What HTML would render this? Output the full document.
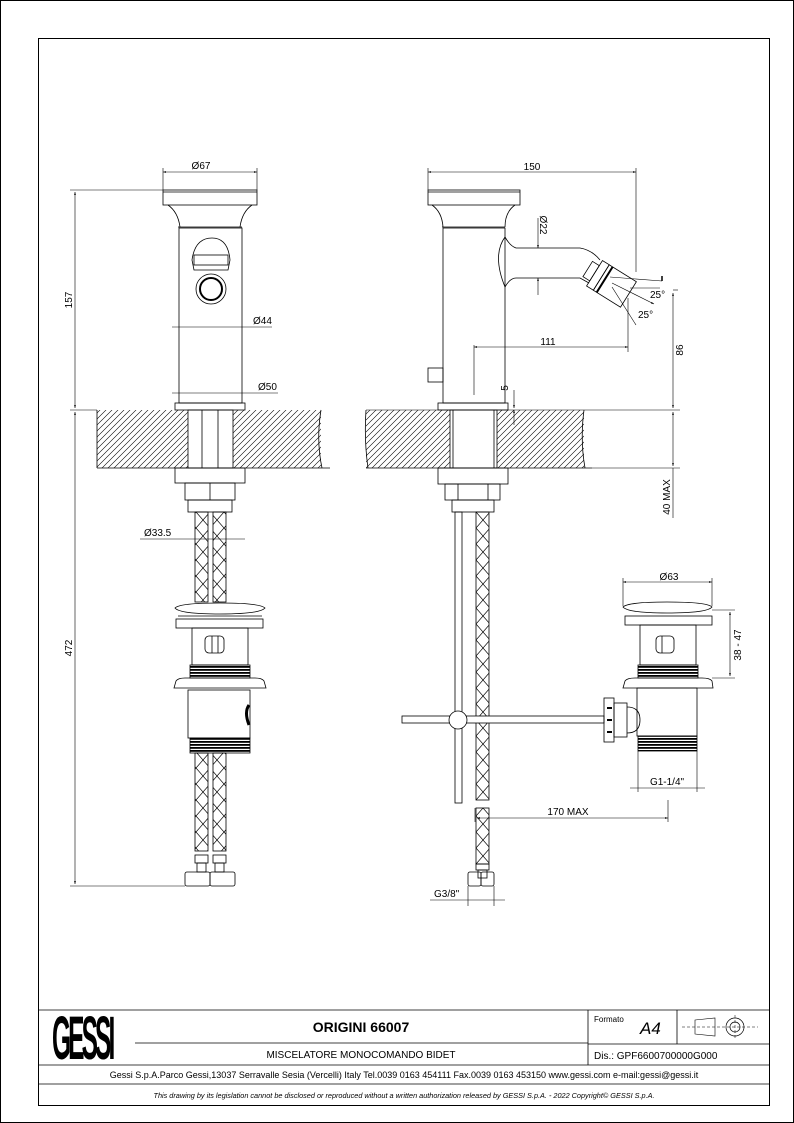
<!DOCTYPE html>
<html><head><meta charset="utf-8"><style>
html,body{margin:0;padding:0;background:#fff}
svg{display:block}
text{font-family:"Liberation Sans",Arial,sans-serif;fill:#000}
</style></head><body>
<svg width="794" height="1123" viewBox="0 0 794 1123" xmlns="http://www.w3.org/2000/svg">
<defs>
<pattern id="h" width="6" height="6" patternUnits="userSpaceOnUse"><path d="M-1,7 L7,-1 M-1,1 L1,-1 M5,7 L7,5" stroke="#000" stroke-width="0.6"/></pattern>
<pattern id="x" width="14" height="16" patternUnits="userSpaceOnUse"><path d="M0,0 L14,16 M14,0 L0,16" stroke="#000" stroke-width="0.7" fill="none"/></pattern>
<pattern id="t" width="8" height="3" patternUnits="userSpaceOnUse"><rect width="8" height="1.8" fill="#000"/></pattern>
<marker id="a" viewBox="0 0 10 10" refX="10" refY="5" markerWidth="7" markerHeight="5" orient="auto-start-reverse"><path d="M0,2 L10,5 L0,8z" fill="#000"/></marker>
</defs>
<rect x="0.5" y="0.5" width="793" height="1122" fill="none" stroke="#000"/>
<rect x="38.5" y="38.5" width="731" height="1067" fill="none" stroke="#000"/>
<g fill="none" stroke="#000" stroke-width="0.8">
<!-- LEFT VIEW -->
<rect x="163" y="190" width="94" height="15"/><line x1="163" y1="192" x2="257" y2="192"/>
<path d="M168,205 Q178,212 180,227 M252,205 Q242,212 240,227"/>
<line x1="178" y1="227" x2="242" y2="227"/>
<rect x="179" y="228" width="63" height="175"/>
<path d="M192,260 Q195,238 212,238 Q228,238 230,260 L228,270 L194,270z"/>
<rect x="194" y="255" width="34" height="10"/>
<circle cx="211" cy="289" r="15"/><circle cx="211" cy="289" r="11" stroke-width="2"/>
<rect x="175" y="403" width="70" height="7"/>
<rect x="97" y="410" width="91" height="58" fill="url(#h)" stroke="none"/>
<rect x="233" y="410" width="88" height="58" fill="url(#h)" stroke="none"/>
<path d="M97,410 L97,468 M321,410 Q316,440 322,468"/>
<rect x="188" y="410" width="45" height="58"/><line x1="202" y1="410" x2="202" y2="468"/><line x1="218" y1="410" x2="218" y2="468"/>
<line x1="97" y1="468" x2="330" y2="468"/>
<rect x="175" y="468" width="70" height="15"/>
<rect x="185" y="483" width="50" height="17"/><line x1="210" y1="483" x2="210" y2="500"/>
<rect x="188" y="500" width="44" height="12"/>
<rect x="195" y="512" width="13" height="90" fill="url(#x)"/><rect x="213" y="512" width="13" height="90" fill="url(#x)"/>
<path d="M175,608 Q180,603 220,603 Q260,603 265,608 Q260,614 220,614 Q180,614 175,608z"/>
<line x1="178" y1="616" x2="262" y2="616"/>
<rect x="176" y="619" width="87" height="9"/>
<rect x="192" y="628" width="56" height="37"/>
<rect x="205" y="636" width="19" height="17" rx="4"/><line x1="212" y1="636" x2="212" y2="653"/><line x1="218" y1="636" x2="218" y2="653"/>
<rect x="190" y="665" width="60" height="13" fill="url(#t)"/>
<path d="M174,688 L176,681 Q178,678 185,678 L255,678 Q262,678 264,681 L266,688z"/>
<rect x="188" y="690" width="62" height="48"/>
<path d="M249,705 Q244,712 249,725" stroke-width="3"/>
<rect x="190" y="738" width="60" height="15" fill="url(#t)"/>
<rect x="195" y="753" width="13" height="98" fill="url(#x)"/><rect x="213" y="753" width="13" height="98" fill="url(#x)"/>
<rect x="195" y="855" width="13" height="8"/><rect x="213" y="855" width="13" height="8"/>
<rect x="197" y="863" width="9" height="9"/><rect x="215" y="863" width="9" height="9"/>
<rect x="185" y="872" width="25" height="14" rx="2"/><rect x="210" y="872" width="25" height="14" rx="2"/>
<!-- LEFT dims -->
<line x1="70" y1="190" x2="163" y2="190" stroke-width="0.6"/>
<line x1="70" y1="410" x2="97" y2="410" stroke-width="0.6"/>
<line x1="70" y1="886" x2="185" y2="886" stroke-width="0.6"/>
<line x1="75" y1="192" x2="75" y2="408" marker-start="url(#a)" marker-end="url(#a)" stroke-width="0.6"/>
<line x1="75" y1="412" x2="75" y2="884" marker-start="url(#a)" marker-end="url(#a)" stroke-width="0.6"/>
<line x1="163" y1="172" x2="257" y2="172" marker-start="url(#a)" marker-end="url(#a)" stroke-width="0.6"/>
<line x1="163" y1="168" x2="163" y2="190" stroke-width="0.6"/><line x1="257" y1="168" x2="257" y2="190" stroke-width="0.6"/>
<line x1="172" y1="327" x2="272" y2="327" stroke-width="0.6"/>
<line x1="172" y1="393" x2="278" y2="393" stroke-width="0.6"/>
<line x1="140" y1="539" x2="245" y2="539" stroke-width="0.6"/>
<!-- RIGHT VIEW -->
<rect x="428" y="190" width="92" height="15"/><line x1="428" y1="192" x2="520" y2="192"/>
<path d="M432,205 Q442,212 443,227 M515,205 Q505,212 505,227"/>
<line x1="442" y1="227" x2="505" y2="227"/>
<rect x="443" y="228" width="62" height="175"/>
<path d="M505,237 Q492,255 505,287 M505,237 Q510,246 516,248 L580,248 Q592,250 600,260 M505,287 Q510,278 516,278 L580,278 L589,283"/>
<rect x="428" y="368" width="15" height="14"/>
<g transform="rotate(32 612 283)">
<rect x="584" y="275" width="8" height="18"/>
<rect x="592" y="269" width="8" height="30"/>
<rect x="600" y="269" width="32" height="30"/>
<line x1="604" y1="269" x2="604" y2="299" stroke-width="2"/>
</g>
<rect x="438" y="403" width="70" height="7"/>
<rect x="366" y="410" width="84" height="58" fill="url(#h)" stroke="none"/>
<rect x="497" y="410" width="87" height="58" fill="url(#h)" stroke="none"/>
<path d="M366,410 Q364,440 368,468 M584,410 Q580,440 585,468"/>
<rect x="450" y="410" width="47" height="58"/><line x1="453" y1="410" x2="453" y2="468"/><line x1="494" y1="410" x2="494" y2="468"/>
<line x1="366" y1="468" x2="592" y2="468"/>
<line x1="366" y1="410" x2="680" y2="410" stroke-width="0.6"/>
<rect x="438" y="468" width="70" height="16"/>
<rect x="445" y="484" width="55" height="16"/><line x1="458" y1="484" x2="458" y2="500"/><line x1="488" y1="484" x2="488" y2="500"/>
<rect x="452" y="500" width="42" height="12"/>
<rect x="455" y="512" width="7" height="291"/>
<rect x="476" y="512" width="13" height="288" fill="url(#x)"/>
<rect x="476" y="808" width="13" height="56" fill="url(#x)"/>
<rect x="476" y="864" width="13" height="6"/><rect x="478" y="870" width="9" height="8"/>
<rect x="468" y="872" width="13" height="14" rx="2"/><rect x="481" y="872" width="13" height="14" rx="2"/>
<rect x="402" y="716" width="202" height="7" fill="#fff"/>
<circle cx="458" cy="720" r="9" fill="#fff"/>
<rect x="604" y="698" width="10" height="44"/><rect x="614" y="703" width="13" height="34"/>
<path d="M607,708 h5 M607,720 h5 M607,732 h5" stroke-width="2"/>
<path d="M627,707 Q640,707 640,720 Q640,733 627,733"/>
<path d="M623,607 Q628,602 667,602 Q707,602 712,607 Q707,613 667,613 Q628,613 623,607z"/>
<rect x="625" y="616" width="87" height="9"/>
<rect x="640" y="625" width="56" height="40"/>
<rect x="656" y="636" width="18" height="17" rx="4"/><line x1="662" y1="636" x2="662" y2="653"/>
<rect x="638" y="665" width="60" height="13" fill="url(#t)"/>
<path d="M623,688 L625,681 Q627,678 635,678 L702,678 Q710,678 712,681 L713,688z"/>
<rect x="637" y="688" width="60" height="48"/>
<rect x="638" y="736" width="59" height="15" fill="url(#t)"/>
<!-- right dims -->
<line x1="428" y1="172" x2="636" y2="172" marker-start="url(#a)" marker-end="url(#a)" stroke-width="0.6"/>
<line x1="428" y1="168" x2="428" y2="190" stroke-width="0.6"/><line x1="636" y1="168" x2="636" y2="272" stroke-width="0.6"/>
<line x1="538" y1="218" x2="538" y2="248" marker-end="url(#a)" stroke-width="0.6"/>
<line x1="538" y1="295" x2="538" y2="278" marker-end="url(#a)" stroke-width="0.6"/>
<line x1="474" y1="347" x2="628" y2="347" marker-start="url(#a)" marker-end="url(#a)" stroke-width="0.6"/>
<line x1="474" y1="345" x2="474" y2="395" stroke-width="0.6"/><line x1="628" y1="298" x2="628" y2="352" stroke-width="0.6"/>
<line x1="610" y1="277" x2="662" y2="281" stroke-width="0.6"/><line x1="662" y1="276" x2="662" y2="281" stroke-width="1.5"/>
<line x1="612" y1="283" x2="654" y2="304" marker-end="url(#a)" stroke-width="0.6"/>
<line x1="630" y1="288" x2="660" y2="288" stroke-width="0.6"/>
<line x1="612" y1="287" x2="636" y2="325" stroke-width="0.6"/>
<line x1="673" y1="293" x2="673" y2="408" marker-start="url(#a)" marker-end="url(#a)" stroke-width="0.6"/>
<line x1="673" y1="412" x2="673" y2="466" marker-start="url(#a)" marker-end="url(#a)" stroke-width="0.6"/>
<line x1="592" y1="468" x2="680" y2="468" stroke-width="0.6"/>
<line x1="673" y1="290" x2="678" y2="290" stroke-width="0.6"/>
<line x1="673" y1="468" x2="673" y2="518" stroke-width="0.6"/>
<line x1="514" y1="390" x2="514" y2="408" marker-end="url(#a)" stroke-width="0.6"/>
<line x1="514" y1="425" x2="514" y2="410" marker-end="url(#a)" stroke-width="0.6"/>
<line x1="623" y1="582" x2="712" y2="582" marker-start="url(#a)" marker-end="url(#a)" stroke-width="0.6"/>
<line x1="623" y1="578" x2="623" y2="606" stroke-width="0.6"/><line x1="712" y1="578" x2="712" y2="606" stroke-width="0.6"/>
<line x1="712" y1="610" x2="735" y2="610" stroke-width="0.6"/><line x1="712" y1="678" x2="735" y2="678" stroke-width="0.6"/>
<line x1="730" y1="612" x2="730" y2="676" marker-start="url(#a)" marker-end="url(#a)" stroke-width="0.6"/>
<line x1="638" y1="751" x2="638" y2="792" stroke-width="0.6"/><line x1="697" y1="751" x2="697" y2="792" stroke-width="0.6"/>
<line x1="630" y1="788" x2="705" y2="788" stroke-width="0.6"/>
<line x1="475" y1="808" x2="475" y2="822" stroke-width="0.6"/><line x1="668" y1="800" x2="668" y2="822" stroke-width="0.6"/>
<line x1="477" y1="818" x2="668" y2="818" marker-start="url(#a)" marker-end="url(#a)" stroke-width="0.6"/>
<line x1="468" y1="886" x2="468" y2="906" stroke-width="0.6"/><line x1="494" y1="886" x2="494" y2="906" stroke-width="0.6"/>
<line x1="430" y1="900" x2="505" y2="900" stroke-width="0.6"/>
</g>
<g font-size="10">
<text x="201" y="169" text-anchor="middle">Ø67</text>
<text x="253" y="324">Ø44</text>
<text x="258" y="390">Ø50</text>
<text x="144" y="536">Ø33.5</text>
<text transform="translate(72 300) rotate(-90)" text-anchor="middle">157</text>
<text transform="translate(72 648) rotate(-90)" text-anchor="middle">472</text>
<text x="532" y="170" text-anchor="middle">150</text>
<text transform="translate(540 225) rotate(90)" text-anchor="middle">Ø22</text>
<text x="548" y="345" text-anchor="middle">111</text>
<text x="650" y="298">25°</text>
<text x="638" y="318">25°</text>
<text transform="translate(683 350) rotate(-90)" text-anchor="middle">86</text>
<text transform="translate(670 497) rotate(-90)" text-anchor="middle">40 MAX</text>
<text transform="translate(508 388) rotate(-90)" text-anchor="middle">5</text>
<text x="669" y="580" text-anchor="middle">Ø63</text>
<text transform="translate(741 645) rotate(-90)" text-anchor="middle">38 - 47</text>
<text x="667" y="785" text-anchor="middle">G1-1/4"</text>
<text x="568" y="815" text-anchor="middle">170 MAX</text>
<text x="434" y="897">G3/8"</text>
</g>
<!-- title block -->
<g fill="none" stroke="#000" stroke-width="0.8">
<line x1="38" y1="1010" x2="770" y2="1010"/>
<line x1="38" y1="1065" x2="770" y2="1065"/>
<line x1="38" y1="1084" x2="770" y2="1084"/>
<line x1="135" y1="1043" x2="588" y2="1043"/>
<line x1="588" y1="1010" x2="588" y2="1065"/>
<line x1="677" y1="1010" x2="677" y2="1044"/>
<line x1="588" y1="1044" x2="770" y2="1044"/>
<path d="M695,1020 L715,1018 L715,1036 L695,1034z" stroke-width="0.6"/>
<line x1="682" y1="1027" x2="758" y2="1027" stroke-width="0.5" stroke-dasharray="3,2"/>
<circle cx="735" cy="1027" r="9" stroke-width="0.7"/><circle cx="735" cy="1027" r="5" stroke-width="0.7"/>
<line x1="735" y1="1015" x2="735" y2="1039" stroke-width="0.5" stroke-dasharray="3,2"/>
</g>
<text transform="translate(52 1059) scale(0.72 1.8)" font-size="34" font-weight="bold" style="letter-spacing:-4px">GESSI</text>
<text x="361" y="1032" font-size="14" font-weight="bold" text-anchor="middle">ORIGINI 66007</text>
<text x="361" y="1058" font-size="10" text-anchor="middle">MISCELATORE MONOCOMANDO BIDET</text>
<text x="594" y="1022" font-size="8">Formato</text>
<text x="640" y="1034" font-size="17" font-style="italic">A4</text>
<text x="594" y="1059" font-size="10">Dis.: GPF6600700000G000</text>
<text x="404" y="1078" font-size="9" text-anchor="middle">Gessi S.p.A.Parco Gessi,13037 Serravalle Sesia (Vercelli) Italy Tel.0039 0163 454111 Fax.0039 0163 453150 www.gessi.com e-mail:gessi@gessi.it</text>
<text x="404" y="1098" font-size="7.3" font-style="italic" text-anchor="middle">This drawing by its legislation cannot be disclosed or reproduced without a written authorization released by GESSI S.p.A. - 2022 Copyright© GESSI S.p.A.</text>
</svg>
</body></html>
